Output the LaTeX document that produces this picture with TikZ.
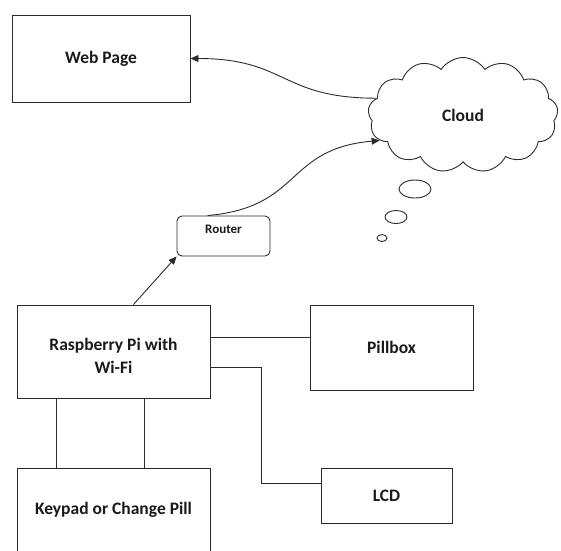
\documentclass[tikz,border=0pt]{standalone}
\usepackage{fontspec}
\setmainfont{Carlito}
\usepackage{tikz}
\usetikzlibrary{arrows.meta,positioning,calc,shapes.symbols}
\usepackage{xcolor}
\definecolor{ink}{HTML}{2B2B2B}
\definecolor{txt}{HTML}{1A1A1A}
\tikzset{
  box/.style={rectangle,draw=ink,fill=white,text=txt,line width=0.9pt,
    inner sep=0pt,font=\bfseries\fontsize{17.5}{23}\selectfont,align=center},
  rbox/.style={box,rounded corners=5pt,font=\bfseries\fontsize{13}{16}\selectfont},
  cloudbox/.style={cloud,cloud puffs=13,cloud puff arc=115,aspect=1.6,draw=ink,
    line width=0.9pt,inner sep=0pt,text=txt,font=\bfseries\fontsize{17.5}{22}\selectfont},
  link/.style={draw=ink,line width=0.9pt},
  arrow/.style={link,-{Triangle[length=8pt,width=7pt]}},
}
\begin{document}
\begin{tikzpicture}[x=1pt,y=-1pt]
  \clip (0,0) rectangle (561,550);
  \node[box,minimum width=178pt,minimum height=87pt] (web) at (101,58.5){Web Page};
  \node[cloudbox,minimum width=190pt,minimum height=115pt] (cloud) at (463,115){Cloud};
  \node[rbox,minimum width=93pt,minimum height=40pt,
    label={[font=\bfseries\fontsize{13}{16}\selectfont,text=txt,yshift=-22pt]north:Router}] (router) at (223.5,236){};
  \node[box,minimum width=193pt,minimum height=93pt] (rpi) at (113.5,351.5){\\[-2pt]Raspberry Pi with\\Wi-Fi};
  \node[box,minimum width=163pt,minimum height=85pt] (pillbox) at (391.5,347.5){Pillbox};
  \node[box,minimum width=131pt,minimum height=55pt] (lcd) at (386.5,495.5){LCD};
  \node[box,minimum width=193pt,minimum height=84pt] (keypad) at (113.5,510){Keypad or Change Pill};
  % thought bubbles
  \draw[link] (415,189) ellipse (16 and 9);
  \draw[link] (396,217) ellipse (11 and 6.5);
  \draw[link] (382,238) ellipse (5 and 3.5);
  % connectors
  \draw[arrow] (cloud.169) to[out=180,in=0,looseness=1.3] (web.east);
  \draw[arrow] (router.128) to[out=5,in=185,looseness=1.3] (cloud.197);
  \draw[arrow] (rpi.67) -- (router.south west);
  \draw[link] ([yshift=14.5pt]rpi.east) -- ([yshift=14.5pt]rpi.east -| pillbox.west);
  \draw[link] ([yshift=-16pt]rpi.east) -- ++(51,0) |- ([yshift=12.5pt]lcd.west);
  \draw[link] ([xshift=40pt]rpi.south west) -- ([xshift=40pt]keypad.north west);
  \draw[link] ([xshift=128pt]rpi.south west) -- ([xshift=128pt]keypad.north west);
\end{tikzpicture}
\end{document}
